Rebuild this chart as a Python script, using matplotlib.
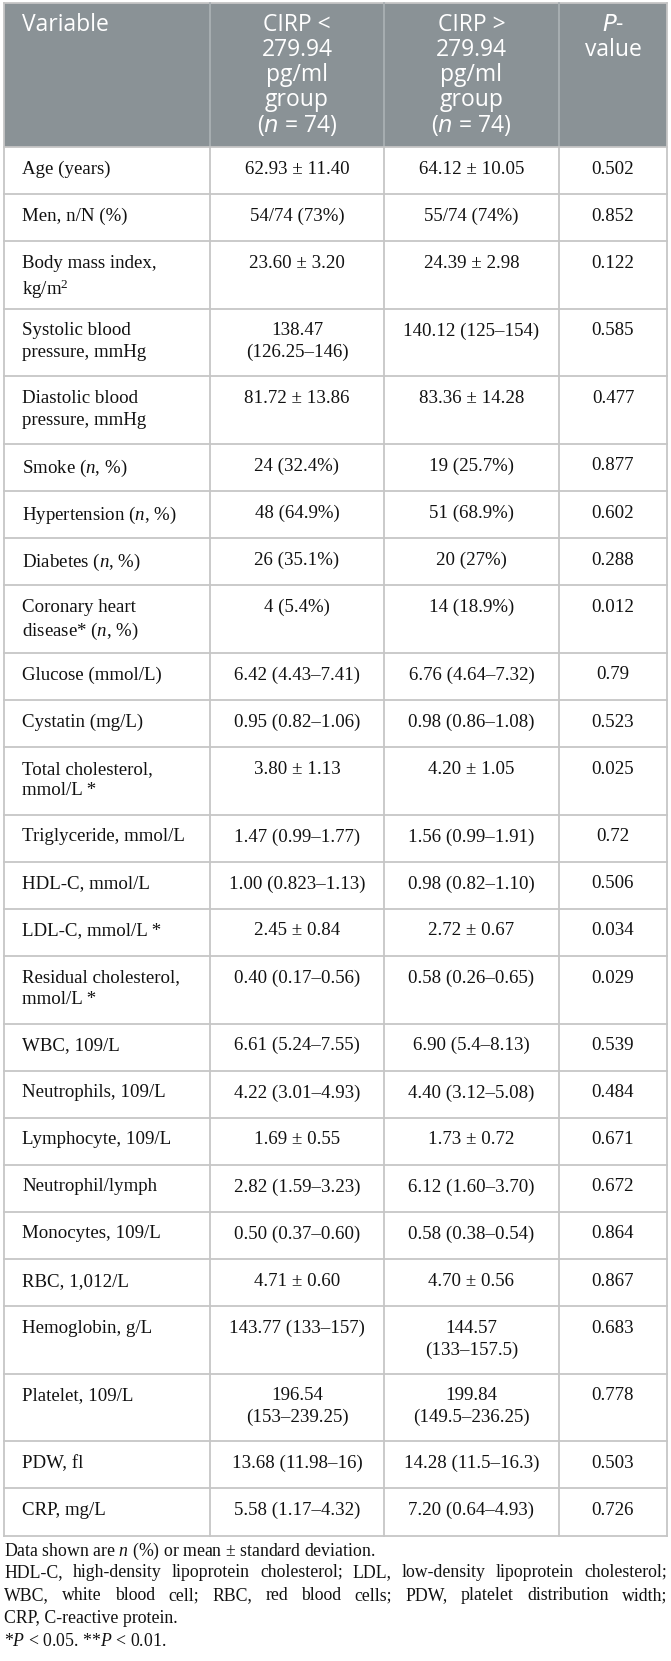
import matplotlib
matplotlib.use("Agg")
import matplotlib.pyplot as plt
from matplotlib.patches import Rectangle

plt.rcParams['mathtext.fontset'] = 'custom'
plt.rcParams['mathtext.rm'] = 'Liberation Serif'
plt.rcParams['mathtext.it'] = 'Liberation Serif:italic'

# table content
header = ["Variable",
          "CIRP <\n279.94\npg/ml\ngroup\n($n$ = 74)",
          "CIRP >\n279.94\npg/ml\ngroup\n($n$ = 74)",
          "$P$-\nvalue"]

variables = ["Age (years)", "Men, n/N (%)", "Body mass index,\nkg/m$^2$",
             "Systolic blood\npressure, mmHg", "Diastolic blood\npressure, mmHg",
             "Smoke ($n$, %)", "Hypertension ($n$, %)", "Diabetes ($n$, %)",
             "Coronary heart\ndisease* ($n$, %)", "Glucose (mmol/L)", "Cystatin (mg/L)",
             "Total cholesterol,\nmmol/L *", "Triglyceride, mmol/L", "HDL-C, mmol/L",
             "LDL-C, mmol/L *", "Residual cholesterol,\nmmol/L *", "WBC, 109/L",
             "Neutrophils, 109/L", "Lymphocyte, 109/L", "Neutrophil/lymph",
             "Monocytes, 109/L", "RBC, 1,012/L", "Hemoglobin, g/L", "Platelet, 109/L",
             "PDW, fl", "CRP, mg/L"]

low_group = ["62.93 ± 11.40", "54/74 (73%)", "23.60 ± 3.20", "138.47\n(126.25–146)",
             "81.72 ± 13.86", "24 (32.4%)", "48 (64.9%)", "26 (35.1%)", "4 (5.4%)",
             "6.42 (4.43–7.41)", "0.95 (0.82–1.06)", "3.80 ± 1.13", "1.47 (0.99–1.77)",
             "1.00 (0.823–1.13)", "2.45 ± 0.84", "0.40 (0.17–0.56)", "6.61 (5.24–7.55)",
             "4.22 (3.01–4.93)", "1.69 ± 0.55", "2.82 (1.59–3.23)", "0.50 (0.37–0.60)",
             "4.71 ± 0.60", "143.77 (133–157)", "196.54\n(153–239.25)",
             "13.68 (11.98–16)", "5.58 (1.17–4.32)"]

high_group = ["64.12 ± 10.05", "55/74 (74%)", "24.39 ± 2.98", "140.12 (125–154)",
              "83.36 ± 14.28", "19 (25.7%)", "51 (68.9%)", "20 (27%)", "14 (18.9%)",
              "6.76 (4.64–7.32)", "0.98 (0.86–1.08)", "4.20 ± 1.05", "1.56 (0.99–1.91)",
              "0.98 (0.82–1.10)", "2.72 ± 0.67", "0.58 (0.26–0.65)", "6.90 (5.4–8.13)",
              "4.40 (3.12–5.08)", "1.73 ± 0.72", "6.12 (1.60–3.70)", "0.58 (0.38–0.54)",
              "4.70 ± 0.56", "144.57\n(133–157.5)", "199.84\n(149.5–236.25)",
              "14.28 (11.5–16.3)", "7.20 (0.64–4.93)"]

p_values = ["0.502", "0.852", "0.122", "0.585", "0.477", "0.877", "0.602", "0.288",
            "0.012", "0.79", "0.523", "0.025", "0.72", "0.506", "0.034", "0.029",
            "0.539", "0.484", "0.671", "0.672", "0.864", "0.867", "0.683", "0.778",
            "0.503", "0.726"]

footnotes = ["Data shown are $n$ (%) or mean ± standard deviation.",
             "HDL-C, high-density lipoprotein cholesterol; LDL, low-density lipoprotein cholesterol;",
             "WBC, white blood cell; RBC, red blood cells; PDW, platelet distribution width;",
             "CRP, C-reactive protein.",
             "*$P$ < 0.05. **$P$ < 0.01."]
justified = [False, True, True, False, False]

# layout in pixels
W, H = 671, 1661
col_x = [4, 210, 384, 559, 667]
top, head_bot = 3, 147
single_h, line_h = 47.1, 20.5
grid_col = "#c6c6c6"
head_col = "#8a9296"
serif = "Liberation Serif"
body_size = 13.6

fig = plt.figure(figsize=(W / 100, H / 100), dpi=100)
ax = fig.add_axes([0, 0, 1, 1])
ax.set_xlim(0, W)
ax.set_ylim(H, 0)
ax.axis("off")

# header
ax.add_patch(Rectangle((col_x[0], top), col_x[-1] - col_x[0], head_bot - top,
                       facecolor=head_col, edgecolor="none"))
for i, txt in enumerate(header):
    if i == 0:
        ax.text(col_x[0] + 18, top + 10, txt, ha="left", va="top", color="white",
                family="Open Sans", fontsize=16.5, linespacing=1.05,
                math_fontfamily="dejavusans")
    else:
        ax.text((col_x[i] + col_x[i + 1]) / 2, top + 10, txt, ha="center", va="top",
                color="white", family="Open Sans", fontsize=16.5, linespacing=1.05,
                math_fontfamily="dejavusans", multialignment="center")

# body rows
y = head_bot
row_edges = [y]
for var, lo, hi, p in zip(variables, low_group, high_group, p_values):
    nlines = max(s.count("\n") + 1 for s in (var, lo, hi, p))
    h = single_h + (nlines - 1) * line_h
    ty = y + 13.5
    ax.text(col_x[0] + 18, ty, var, ha="left", va="top", family=serif,
            fontsize=body_size, linespacing=1.36, color="#111111")
    for j, s in enumerate((lo, hi, p)):
        ax.text((col_x[j + 1] + col_x[j + 2]) / 2, ty, s, ha="center", va="top",
                family=serif, fontsize=body_size, linespacing=1.36, color="#111111",
                multialignment="center")
    y += h
    row_edges.append(y)
table_bot = y

for ry in row_edges:
    ax.plot([col_x[0], col_x[-1]], [ry, ry], color=grid_col, lw=1.3)
ax.plot([col_x[0], col_x[-1]], [top, top], color=grid_col, lw=1.3)
for k, cx in enumerate(col_x):
    ax.plot([cx, cx], [top, head_bot], color="#aab0b3" if 0 < k < 4 else grid_col, lw=1.3)
    ax.plot([cx, cx], [head_bot, table_bot], color=grid_col, lw=1.3)

# footnotes
fig.canvas.draw()
renderer = fig.canvas.get_renderer()
fy = table_bot + 5
for note, just in zip(footnotes, justified):
    if not just:
        ax.text(col_x[0], fy, note, ha="left", va="top", family=serif,
                fontsize=12.8, color="#111111")
    else:
        words = note.split(" ")
        arts = [ax.text(0, fy, w, ha="left", va="top", family=serif,
                        fontsize=12.8, color="#111111") for w in words]
        widths = [a.get_window_extent(renderer).width for a in arts]
        gap = (col_x[-1] - col_x[0] - sum(widths)) / (len(words) - 1)
        x = col_x[0]
        for a, wd in zip(arts, widths):
            a.set_x(x)
            x += wd + gap
    fy += 23.2

fig.savefig("out.png", dpi=100)
